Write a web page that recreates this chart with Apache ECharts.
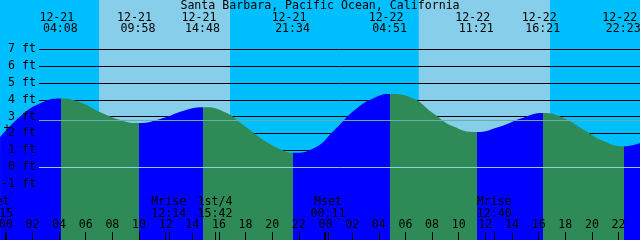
<!DOCTYPE html>
<html><head><meta charset="utf-8">
<script src="https://cdn.jsdelivr.net/npm/echarts@6/dist/echarts.min.js"></script>
<style>html,body{margin:0;padding:0;background:#00BFFF;overflow:hidden}#c{width:640px;height:240px}</style>
</head><body><div id="c"></div>
<script>
// ---------------- data ----------------
const chartTitle = 'Santa Barbara, Pacific Ocean, California';
// tide extremes (high / low)
const tideDates  = ['12-21','12-21','12-21','12-21','12-22','12-22','12-22','12-22'];
const tideTimes  = ['04:08','09:58','14:48','21:34','04:51','11:21','16:21','22:23'];
const tideLevels = [4.08, 2.62, 3.55, 0.85, 4.35, 2.08, 3.21, 1.23];
// tide level readings between the extremes (hours from 12-21 00:00, ft)
const curveHours  = [-0.43, 1.10, 2.63, 5.69, 7.22, 8.75, 11.82, 13.36, 16.42, 17.95, 19.48, 21.01, 23.16, 24.69, 26.22, 27.76, 30.51, 32.05, 33.57, 36.95, 38.78, 41.85, 43.38, 44.90, 47.61];
const curveLevels = [1.77, 3.02, 3.81, 3.81, 3.21, 2.76, 2.92, 3.35, 3.27, 2.42, 1.53, 0.93, 1.13, 2.22, 3.41, 4.15, 4.11, 3.21, 2.42, 2.36, 2.92, 2.92, 2.22, 1.53, 1.43];
// sun
const sunDates    = ['12-21','12-22'];
const sunriseTimes = ['07:00','07:00'];
const sunsetTimes  = ['16:50','16:51'];
// moon
const moonNames = ['Mset','Mrise','1st/4','Mset','Mrise'];
const moonDates = ['12-20','12-21','12-21','12-22','12-22'];
const moonTimes = ['23:15','12:14','15:42','00:11','12:40'];
// axes
const hourTicks  = [0,2,4,6,8,10,12,14,16,18,20,22,24,26,28,30,32,34,36,38,40,42,44,46];
const depthTicks = [-1,0,1,2,3,4,5,6,7];
const datumLevel = 0;
const mslLevel   = 2.78;

// ---------------- helpers ----------------
function toHour(d, t) {
  const day = parseInt(d.split('-')[1], 10) - 21;
  const p = t.split(':').map(Number);
  return day * 24 + p[0] + p[1] / 60;
}
const pad = v => (v < 10 ? '0' : '') + v;

const FF = 'DejaVu Sans Mono';
const FS = 11.6;
const FONT = FS + 'px "' + FF + '"';
const NIGHT = '#00BFFF', DAY = '#87CEEB', FLOOD = '#0000FF', EBB = '#2E8B57';

const xMin = -0.435, xMax = 47.61;
const yMin = -4.345, yMax = 9.94;

const extHours = tideDates.map((d, i) => toHour(d, tideTimes[i]));
const curve = [];
curveHours.forEach((h, i) => curve.push([h, curveLevels[i]]));
extHours.forEach((h, i) => curve.push([h, tideLevels[i]]));
curve.sort((a, b) => a[0] - b[0]);

// rising (flood) before a high, falling (ebb) before a low
const isHigh = i => tideLevels[i] > (i > 0 ? tideLevels[i - 1] : tideLevels[i + 1]);
const pieces = [];
extHours.forEach((h, i) => {
  const c = isHigh(i) ? FLOOD : EBB;
  if (i === 0) pieces.push({ lt: h, color: c });
  else pieces.push({ gte: extHours[i - 1], lt: h, color: c });
});
pieces.push({ gte: extHours[extHours.length - 1], color: isHigh(extHours.length - 1) ? EBB : FLOOD });

const sunBands = sunDates.map((d, i) => [toHour(d, sunriseTimes[i]), toHour(d, sunsetTimes[i])]);
const moonHours = moonDates.map((d, i) => toHour(d, moonTimes[i]));
const midnights = hourTicks.filter(v => v % 24 === 0);

const chart = echarts.init(document.getElementById('c'), null, { renderer: 'canvas' });
const option = {
  backgroundColor: NIGHT,
  animation: false,
  title: {
    text: chartTitle, left: 'center', top: 0, padding: 0,
    textStyle: { fontFamily: FF, fontSize: FS, fontWeight: 'normal', color: '#000' }
  },
  grid: [
    { left: 0, right: 0, top: 0, bottom: 0, containLabel: false, outerBoundsMode: 'none' },
    { left: 39, right: 0, top: 49.4, bottom: 56.2, containLabel: false, outerBoundsMode: 'none' }
  ],
  xAxis: [
    {
      type: 'value', gridIndex: 0, min: xMin, max: xMax, z: 10, position: 'bottom',
      axisLine: { show: false, onZero: false }, splitLine: { show: false },
      axisTick: { show: true, inside: true, length: 8, customValues: hourTicks, lineStyle: { color: '#000', width: 1 } },
      axisLabel: {
        show: true, inside: true, margin: 9, customValues: hourTicks,
        formatter: v => pad(((v % 24) + 24) % 24),
        color: '#000', fontFamily: FF, fontSize: FS
      }
    },
    { type: 'value', gridIndex: 1, min: 0, max: 1, show: false }
  ],
  yAxis: [
    { type: 'value', gridIndex: 0, min: yMin, max: yMax, show: false },
    {
      type: 'value', gridIndex: 1, position: 'left', min: depthTicks[0], max: depthTicks[depthTicks.length - 1], interval: 1, z: 1,
      axisLine: { show: false, onZero: false }, axisTick: { show: false }, axisLabel: { show: false },
      splitLine: { show: true, lineStyle: { color: '#000', width: 1 } }
    },
    {
      type: 'value', gridIndex: 1, position: 'left', offset: 0, min: depthTicks[0], max: depthTicks[depthTicks.length - 1], interval: 1, z: 10,
      axisLine: { show: false, onZero: false }, axisTick: { show: false }, splitLine: { show: false },
      axisLabel: { show: true, margin: 3, formatter: v => v + ' ft', color: '#000', fontFamily: FF, fontSize: FS }
    }
  ],
  visualMap: { type: 'piecewise', show: false, dimension: 0, seriesIndex: 1, pieces: pieces },
  graphic: [{
    type: 'text', x: 7, y: 129, z: 100,
    style: { text: '+', font: FONT, fill: '#000', align: 'center', verticalAlign: 'middle' }
  }],
  series: [
    { // daylight bands
      type: 'custom', xAxisIndex: 0, yAxisIndex: 0, z: 0, silent: true,
      data: sunBands,
      renderItem: (params, api) => {
        const a = api.coord([api.value(0), yMax]);
        const b = api.coord([api.value(1), yMin]);
        return { type: 'rect', shape: { x: a[0], y: a[1], width: b[0] - a[0], height: b[1] - a[1] }, style: { fill: DAY } };
      }
    },
    { // water
      type: 'line', xAxisIndex: 0, yAxisIndex: 0, z: 2, silent: true,
      data: curve, smooth: 0.5, showSymbol: false, symbol: 'none',
      lineStyle: { width: 0 }, areaStyle: { opacity: 1, origin: 'start' }
    },
    { // datum and mean sea level lines
      type: 'custom', xAxisIndex: 1, yAxisIndex: 1, z: 3, silent: true,
      data: [[0, datumLevel], [0, mslLevel]],
      renderItem: (params, api) => {
        const y = Math.round(api.coord([0, api.value(1)])[1]) + 0.5;
        const cs = params.coordSys;
        return { type: 'line', shape: { x1: cs.x, y1: y, x2: cs.x + cs.width, y2: y },
          style: { stroke: params.dataIndex === 0 ? '#8ED0EA' : '#66B0A8', lineWidth: 1 } };
      }
    },
    { // midnight ticks
      type: 'custom', xAxisIndex: 0, yAxisIndex: 0, z: 11, silent: true,
      data: midnights.map(v => [v, 0]),
      renderItem: (params, api) => {
        const p = api.coord([api.value(0), yMin]);
        return { type: 'rect', shape: { x: Math.round(p[0]) - 1, y: p[1] - 8, width: 2, height: 8 }, style: { fill: '#000' } };
      }
    },
    { // moon events
      type: 'custom', xAxisIndex: 0, yAxisIndex: 0, z: 11, silent: true,
      data: moonHours.map((h, i) => [h, i]),
      renderItem: (params, api) => {
        const p = api.coord([api.value(0), yMin]);
        const i = api.value(1);
        const x = p[0], bottom = p[1];
        const xs = Math.round(x) + 0.5;
        return { type: 'group', children: [
          { type: 'text', x: x, y: bottom - 38, style: { text: moonNames[i], font: FONT, fill: '#000', align: 'center', verticalAlign: 'middle' } },
          { type: 'text', x: x, y: bottom - 26.2, style: { text: moonTimes[i], font: FONT, fill: '#000', align: 'center', verticalAlign: 'middle' } },
          { type: 'line', shape: { x1: xs, y1: bottom - 8, x2: xs, y2: bottom }, style: { stroke: '#000', lineWidth: 1 } }
        ] };
      }
    },
    { // high / low labels
      type: 'custom', xAxisIndex: 0, yAxisIndex: 0, z: 11, silent: true,
      data: extHours.map((h, i) => [h, i]),
      renderItem: (params, api) => {
        const p = api.coord([api.value(0), yMax]);
        const i = api.value(1);
        const x = p[0], top = p[1];
        return { type: 'group', children: [
          { type: 'text', x: x - 4, y: top + 17.7, style: { text: tideDates[i], font: FONT, fill: '#000', align: 'center', verticalAlign: 'middle' } },
          { type: 'text', x: x - 0.5, y: top + 29.2, style: { text: tideTimes[i], font: FONT, fill: '#000', align: 'center', verticalAlign: 'middle' } }
        ] };
      }
    }
  ]
};
chart.setOption(option);
</script>
</body></html>
